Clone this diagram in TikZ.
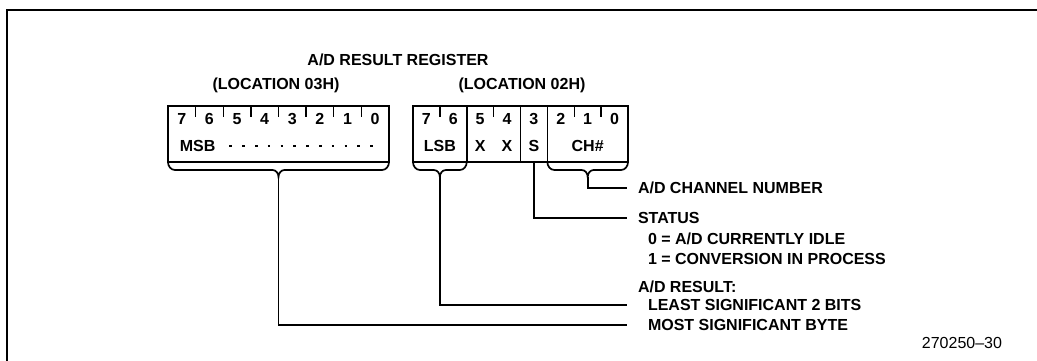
\documentclass[tikz,border=0pt]{standalone}
\usepackage{fontspec}
\setsansfont{Liberation Sans}
\usetikzlibrary{positioning, calc}

\begin{document}
\begin{tikzpicture}[
    x=1pt, y=-1pt,
    line width=1.7pt,
    every node/.style={font=\sffamily\bfseries\fontsize{16}{19}\selectfont, inner sep=0pt, outer sep=0pt, text height=11.5pt, text depth=0pt},
    reg/.style={rectangle, draw, minimum height=56pt},
    hibit/.style={minimum width=27.625pt, minimum height=26pt},
    lobit/.style={minimum width=26.875pt, minimum height=26pt},
    note/.style={anchor=west},
    bittick/.style={line width=1.4pt},
    msbdots/.style={line width=1.6pt, dash pattern=on 2.5pt off 10.3pt}
]
\useasboundingbox (0,0) rectangle (1037,361);
\draw[line width=1.5pt] (1037,10) -- (7,10) -- (7,361);

\node (title) at (398,60) {A/D RESULT REGISTER};
\node (loc3) at (276,84) {(LOCATION 03H)};
\node (loc2) at (522,84) {(LOCATION 02H)};

% high byte
\node[reg, minimum width=221pt] (hi) at (278.5,134) {};
\node[hibit, anchor=north west] (h7) at (hi.north west) {7};
\node[hibit, right=0pt of h7] (h6) {6};
\node[hibit, right=0pt of h6] (h5) {5};
\node[hibit, right=0pt of h5] (h4) {4};
\node[hibit, right=0pt of h4] (h3) {3};
\node[hibit, right=0pt of h3] (h2) {2};
\node[hibit, right=0pt of h2] (h1) {1};
\node[hibit, right=0pt of h1] (h0) {0};
\node (msb) at ($(h7.south east)+(2,14)$) {MSB};
\draw[msbdots] ($(msb.east)+(14,0)$) -- (h0.south |- msb.east);

\draw[bittick] (h7.north east) -- ++(0,11);
\draw[bittick] (h6.north east) -- ++(0,11);
\draw[bittick] (h5.north east) -- ++(0,11);
\draw[bittick] (h4.north east) -- ++(0,11);
\draw[bittick] (h3.north east) -- ++(0,11);
\draw[bittick] (h2.north east) -- ++(0,11);
\draw[bittick] (h1.north east) -- ++(0,11);

% low byte
\node[reg, minimum width=215pt] (lo) at (520.5,134) {};
\node[lobit, anchor=north west] (l7) at (lo.north west) {7};
\node[lobit, right=0pt of l7] (l6) {6};
\node[lobit, right=0pt of l6] (l5) {5};
\node[lobit, right=0pt of l5] (l4) {4};
\node[lobit, right=0pt of l4] (l3) {3};
\node[lobit, right=0pt of l3] (l2) {2};
\node[lobit, right=0pt of l2] (l1) {1};
\node[lobit, right=0pt of l1] (l0) {0};
\node (lsb) at ($(l7.south east)+(0,14)$) {LSB};
\node (x5) at ($(l5.south)+(0,14)$) {X};
\node (x4) at ($(l4.south)+(0,14)$) {X};
\node (st) at ($(l3.south)+(0,14)$) {S};
\node (ch) at ($(l1.south)+(0,14)$) {CH\#};

\draw[bittick] (l7.north east) -- ++(0,11);
\draw[bittick] (l5.north east) -- ++(0,11);
\draw[bittick] (l2.north east) -- ++(0,11);
\draw[bittick] (l1.north east) -- ++(0,11);
\draw (l6.north east) -- (l6.north east |- lo.south);
\draw (l4.north east) -- (l4.north east |- lo.south);
\draw (l3.north east) -- (l3.north east |- lo.south);

% braces
\coordinate (lsbL) at (lo.south west);
\coordinate (lsbR) at (l6.east |- lo.south);
\coordinate (chL) at (l2.west |- lo.south);
\coordinate (chR) at (lo.south east);
\draw (hi.south west) to[out=-90,in=180] ++(7,8) -- ($(hi.south)+(-6,8)$) to[out=0,in=90] ($(hi.south)+(0,15)$) coordinate (hitip) to[out=90,in=180] ($(hi.south)+(6,8)$) -- ($(hi.south east)+(-7,8)$) to[out=0,in=-90] (hi.south east);
\draw (lsbL) to[out=-90,in=180] ++(7,8) -- ($($(lsbL)!.5!(lsbR)$)+(-6,8)$) to[out=0,in=90] ($($(lsbL)!.5!(lsbR)$)+(0,15)$) coordinate (lsbtip) to[out=90,in=180] ($($(lsbL)!.5!(lsbR)$)+(6,8)$) -- ($(lsbR)+(-7,8)$) to[out=0,in=-90] (lsbR);
\draw (chL) to[out=-90,in=180] ++(7,8) -- ($($(chL)!.5!(chR)$)+(-6,8)$) to[out=0,in=90] ($($(chL)!.5!(chR)$)+(0,15)$) coordinate (chtip) to[out=90,in=180] ($($(chL)!.5!(chR)$)+(6,8)$) -- ($(chR)+(-7,8)$) to[out=0,in=-90] (chR);

% notes
\node[note] (chnote) at (638,188) {A/D CHANNEL NUMBER};
\node[note] (stnote) at (638,218) {STATUS};
\node[note] (idle) at (648,239) {0 = A/D CURRENTLY IDLE};
\node[note] (conv) at (648,259) {1 = CONVERSION IN PROCESS};
\node[note] (resnote) at (638,287) {A/D RESULT:};
\node[note] (lsbnote) at (648,305) {LEAST SIGNIFICANT 2 BITS};
\node[note] (msbnote) at (648,325) {MOST SIGNIFICANT BYTE};
\node[font=\sffamily\fontsize{16}{18}\selectfont, anchor=east] (fig) at (1002,343) {270250--30};

\coordinate (rail) at (627,0);
\draw (chtip) |- (rail |- chnote.west);
\draw (l3.south |- lo.south) |- (rail |- stnote.west);
\draw (lsbtip) |- (rail |- lsbnote.west);
\draw (hitip) |- (rail |- msbnote.west);
\end{tikzpicture}
\end{document}
